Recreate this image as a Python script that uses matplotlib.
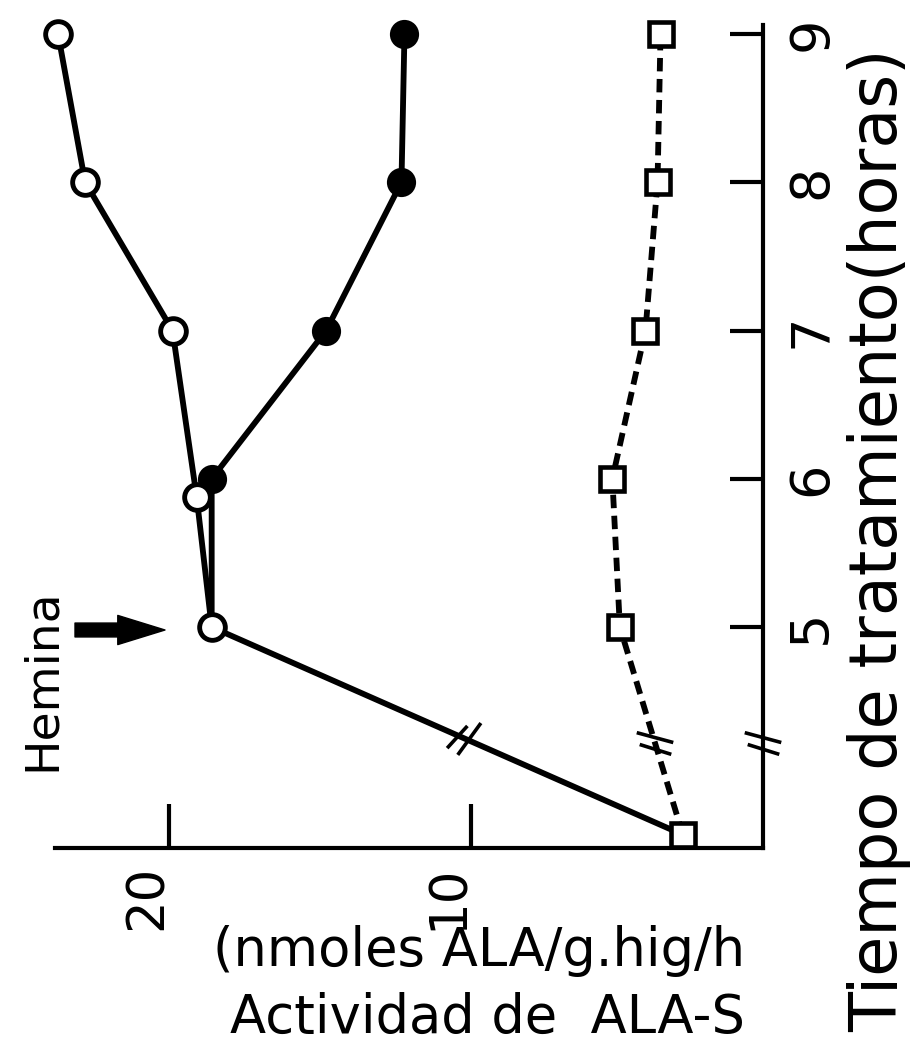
import numpy as np
import matplotlib
matplotlib.use("Agg")
import matplotlib.pyplot as plt
from matplotlib.path import Path
from matplotlib.transforms import ScaledTranslation

# time axis (hours); the control point sits below the axis break
t_open = [3.6, 5, 5.88, 7, 8, 9]
ala_open = [2.96, 18.6, 19.1, 19.9, 22.8, 23.7]

t_filled = [5, 6, 7, 8, 9]
ala_filled = [18.6, 18.6, 14.8, 12.3, 12.2]

t_square = [3.6, 5, 6, 7, 8, 9]
ala_square = [2.96, 5.05, 5.3, 4.2, 3.8, 3.7]

time_ticks = [5, 6, 7, 8, 9]
ala_ticks = [20, 10]
t_break = 4.22

LW = 4.2

# "//" break marks as marker paths
flat_break = Path([(-19, 11), (18, 1), (-16, -1), (16, -11)],
                  [Path.MOVETO, Path.LINETO, Path.MOVETO, Path.LINETO])
steep_break = Path([(-18, -10), (3, 13), (-7, -17), (17, 16)],
                   [Path.MOVETO, Path.LINETO, Path.MOVETO, Path.LINETO])

fig = plt.figure(figsize=(9.11, 10.57), dpi=100)
ax = fig.add_axes([0.0604, 0.1977, 0.7771, 0.7786])

# filled circles (drawn first, open circle at 5 h covers the start)
ax.plot(ala_filled, t_filled, "-", color="k", lw=LW, marker="o", ms=19,
        mfc="k", mec="k", mew=2, markevery=list(range(1, len(t_filled))),
        zorder=2, clip_on=False)

# open circles
ax.plot(ala_open, t_open, "-", color="k", lw=LW, marker="o", ms=18.5,
        mfc="white", mec="k", mew=3.5, markevery=list(range(1, len(t_open))),
        zorder=3, clip_on=False)

# squares, dashed
ax.plot(ala_square, t_square, color="k", lw=LW, ls=(0, (2.3, 1.3)),
        marker="s", ms=17, mfc="white", mec="k", mew=3.3, zorder=4,
        clip_on=False)

# axis breaks
xl = (23.8, 0.3)
ax.set_xlim(xl)
ax.set_ylim(3.51, 9.06)

ax.plot([xl[1]], [t_break], ls="none", marker=flat_break, ms=27, mfc="none",
        mec="k", mew=2.6, clip_on=False, zorder=6)
ax.plot([np.interp(t_break, t_square[:2], ala_square[:2])], [t_break],
        ls="none", marker=flat_break, ms=27, mfc="none", mec="k", mew=2.6,
        clip_on=False, zorder=6)
t_b2 = 4.25
ax.plot([np.interp(t_b2, t_open[:2], ala_open[:2])], [t_b2], ls="none",
        marker=steep_break, ms=25, mfc="none", mec="k", mew=2.6,
        clip_on=False, zorder=6)

# spines and ticks
ax.spines[["top", "left"]].set_visible(False)
ax.spines["right"].set_linewidth(3)
ax.spines["bottom"].set_linewidth(3)

ax.yaxis.tick_right()
ax.set_yticks(time_ticks)
ax.set_yticklabels([str(t) for t in time_ticks], rotation=90, va="center",
                   fontsize=39)
ax.tick_params(axis="y", direction="in", length=24, width=3, pad=16)

ax.set_xticks(ala_ticks)
ax.set_xticklabels([str(v) for v in ala_ticks], rotation=90, fontsize=37)
ax.tick_params(axis="x", direction="in", length=32, width=3, pad=12)
shift = ScaledTranslation(-0.22, 0, fig.dpi_scale_trans)
for lab in ax.get_xticklabels():
    lab.set_transform(lab.get_transform() + shift)

# labels
fig.text(879 / 911, 1 - 540 / 1057, "Tiempo de tratamiento(horas)",
         rotation=90, ha="center", va="center", fontsize=47)
fig.text(745 / 911, 1 - 966 / 1057, "(nmoles ALA/g.hig/h",
         ha="right", va="baseline", fontsize=38)
fig.text(745 / 911, 1 - 1033 / 1057, "Actividad de  ALA-S",
         ha="right", va="baseline", fontsize=38)

fig.text(42 / 911, 1 - 680 / 1057, "Hemina", rotation=90, ha="center",
         va="center", fontsize=34)
ax.annotate("", xy=(165 / 911, 1 - 630 / 1057), xytext=(75 / 911, 1 - 630 / 1057),
            xycoords="figure fraction", textcoords="figure fraction",
            arrowprops=dict(arrowstyle="simple,head_length=1.7,head_width=1.05,tail_width=0.5",
                            color="k", mutation_scale=20, shrinkA=0, shrinkB=0))

fig.savefig("out.png", dpi=100)
